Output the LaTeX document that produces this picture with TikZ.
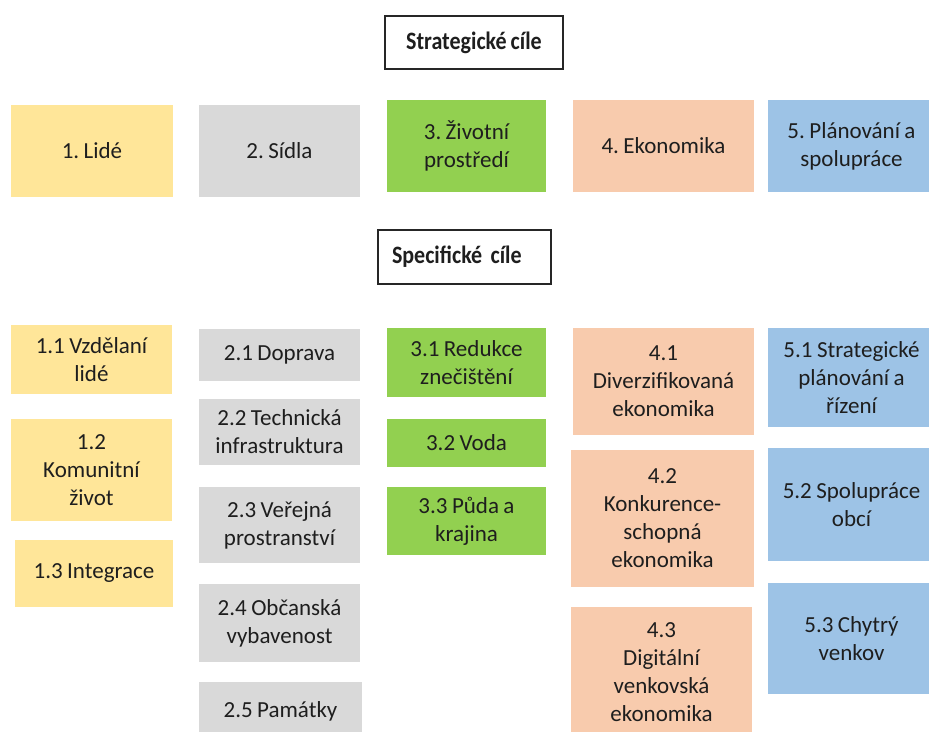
\documentclass[tikz,border=0pt]{standalone}
\usepackage{fontspec}
\setmainfont{Carlito}[WordSpace=0.85]
\newfontfamily\titlefont[FakeStretch=0.88,WordSpace=0.8]{Carlito}
\frenchspacing
\definecolor{cyel}{HTML}{FFE699}
\definecolor{cgray}{HTML}{D9D9D9}
\definecolor{cgreen}{HTML}{92D050}
\definecolor{cpeach}{HTML}{F8CBAD}
\definecolor{cblue}{HTML}{9DC3E6}
\definecolor{ctext}{HTML}{1E1E1E}
\newcommand\gbox[7]{\node[cell, fill=#6, minimum width={(#4-#2)*1pt}, minimum height={(#5-#3)*1pt}] (#1) at ({(#2+#4)/2},{(#3+#5)/2}) {#7};}
\begin{document}
\begin{tikzpicture}[x=1pt,y=-1pt,
  cell/.style={inner sep=0pt, align=center, text=ctext, font=\frenchspacing\fontsize{23}{28}\selectfont},
  titlebox/.style={draw=black!85, line width=1.5pt, fill=white, inner ysep=0pt, text=ctext, font=\frenchspacing\titlefont\bfseries\fontsize{25}{28}\selectfont}]
\useasboundingbox (0,0) rectangle (929,731);
\clip (0,0) rectangle (929,731);
\fill[white] (0,0) rectangle (929,731);

% titles
\node[titlebox, minimum width=178pt, minimum height=53pt, inner xsep=0pt] (strat) at (474,42.5) {Strategické cíle};
\node[titlebox, minimum height=54pt, inner xsep=14pt, text width=145pt, align=left] (spec) at (464.5,257) {Specifické cíle};

% strategic goals
\gbox{g1}{11}{105}{173}{197}{cyel}{1. Lidé}
\gbox{g2}{199}{105}{360}{197}{cgray}{2. Sídla}
\gbox{g3}{387}{100}{546}{192}{cgreen}{3. Životní\\prostředí}
\gbox{g4}{573}{100}{754}{192}{cpeach}{4. Ekonomika}
\gbox{g5}{768}{100}{935}{192}{cblue}{5. Plánování a\\spolupráce}

% specific goals 1
\gbox{s11}{11}{325}{172}{394}{cyel}{1.1 Vzdělaní\\lidé}
\gbox{s12}{11}{419}{172}{521}{cyel}{1.2\\Komunitní\\život}
\gbox{s13}{15}{540}{173}{607}{cyel}{1.3 Integrace}

% specific goals 2
\gbox{s21}{199}{329}{360}{381}{cgray}{2.1 Doprava}
\gbox{s22}{199}{399}{360}{465}{cgray}{2.2 Technická\\infrastruktura}
\gbox{s23}{199}{487}{360}{563}{cgray}{2.3 Veřejná\\prostranství}
\gbox{s24}{199}{584}{360}{662}{cgray}{2.4 Občanská\\vybavenost}
\gbox{s25}{199}{682}{362}{740}{cgray}{2.5 Památky}

% specific goals 3
\gbox{s31}{387}{328}{546}{397}{cgreen}{3.1 Redukce\\znečištění}
\gbox{s32}{387}{419}{546}{467}{cgreen}{3.2 Voda}
\gbox{s33}{387}{487}{546}{555}{cgreen}{3.3 Půda a\\krajina}

% specific goals 4
\gbox{s41}{573}{328}{754}{435}{cpeach}{4.1\\Diverzifikovaná\\ekonomika}
\gbox{s42}{571}{450}{754}{587}{cpeach}{4.2\\Konkurence-\\schopná\\ekonomika}
\gbox{s43}{571}{607}{752}{737}{cpeach}{4.3\\Digitální\\venkovská\\ekonomika}

% specific goals 5
\gbox{s51}{768}{328}{935}{427}{cblue}{5.1 Strategické\\plánování a\\řízení}
\gbox{s52}{768}{448}{935}{561}{cblue}{5.2 Spolupráce\\obcí}
\gbox{s53}{768}{583}{935}{694}{cblue}{5.3 Chytrý\\venkov}
\end{tikzpicture}
\end{document}
